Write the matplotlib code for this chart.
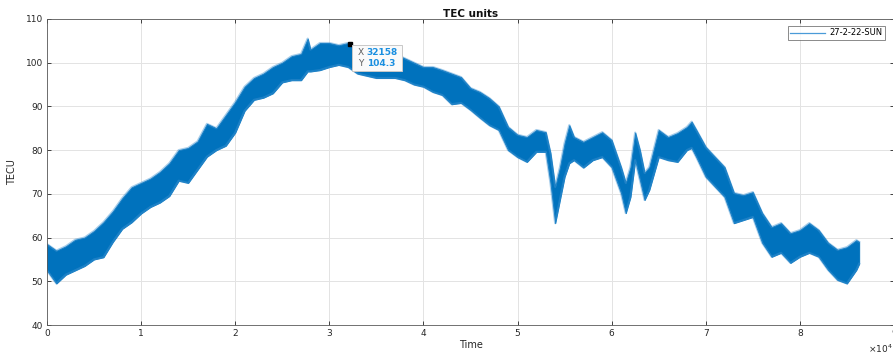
import numpy as np
import matplotlib
matplotlib.use('Agg')
import matplotlib.pyplot as plt
from matplotlib.patches import Rectangle
from matplotlib.lines import Line2D

# time of day in seconds, with the upper and lower edge of the noisy TEC trace
t_sec = [0, 1000, 2000, 3000, 4000, 5000, 6000, 7000, 8000, 9000,
         10000, 11000, 12000, 13000, 14000, 15000, 16000, 17000, 18000, 19000,
         20000, 21000, 22000, 23000, 24000, 25000, 26000, 27000, 27700, 28000,
         29000, 30000, 31000, 32000, 33000, 34000, 35000, 36000, 37000, 38000,
         39000, 40000, 41000, 42000, 43000, 44000, 45000, 46000, 47000, 48000,
         49000, 50000, 51000, 52000, 53000, 53500, 54000, 54500, 55000, 55500,
         56000, 57000, 58000, 59000, 60000, 61000, 61500, 62000, 62500, 63000,
         63500, 64000, 65000, 66000, 67000, 68000, 68500, 69000, 70000, 71000,
         72000, 73000, 74000, 75000, 76000, 77000, 78000, 79000, 80000, 81000,
         82000, 83000, 84000, 85000, 86000, 86300]

tec_hi = [58.5, 57.0, 58.0, 59.5, 60.0, 61.5, 63.5, 66.0, 69.0, 71.5,
          72.5, 73.5, 75.0, 77.0, 80.0, 80.5, 82.0, 86.0, 85.0, 88.0,
          91.0, 94.5, 96.5, 97.5, 99.0, 100.0, 101.5, 102.0, 105.5, 103.0,
          104.5, 104.5, 104.0, 104.5, 103.0, 103.0, 102.5, 102.0, 102.0, 101.0,
          100.0, 99.0, 99.0, 98.3, 97.5, 96.7, 94.2, 93.3, 91.9, 90.0,
          85.3, 83.5, 83.0, 84.6, 84.1, 79.3, 71.6, 76.0, 81.6, 85.7,
          83.0, 81.9, 83.0, 84.1, 82.3, 76.1, 72.5, 76.1, 84.0, 80.0,
          74.8, 76.1, 84.6, 83.0, 83.9, 85.3, 86.5, 84.6, 80.7, 78.4,
          76.1, 70.2, 69.7, 70.4, 65.6, 62.4, 63.3, 61.0, 61.7, 63.3,
          61.7, 58.8, 57.2, 57.8, 59.4, 59.0]

tec_lo = [52.5, 49.5, 51.5, 52.5, 53.5, 55.0, 55.5, 59.0, 62.0, 63.5,
          65.5, 67.0, 68.0, 69.5, 73.0, 72.5, 75.5, 78.5, 80.0, 81.0,
          84.0, 89.0, 91.5, 92.0, 93.0, 95.5, 96.0, 96.0, 98.0, 98.0,
          98.3, 99.0, 99.5, 99.0, 97.5, 97.0, 96.5, 96.5, 96.5, 96.0,
          95.0, 94.5, 93.3, 92.6, 90.5, 90.8, 89.2, 87.4, 85.7, 84.6,
          80.0, 78.4, 77.3, 79.6, 79.6, 72.5, 63.3, 68.6, 73.9, 77.0,
          77.7, 76.0, 77.7, 78.4, 76.1, 70.2, 65.6, 69.3, 77.7, 73.2,
          68.6, 70.9, 78.4, 77.7, 77.3, 80.0, 80.5, 78.4, 73.9, 71.6,
          69.3, 63.3, 64.0, 64.7, 58.8, 55.6, 56.5, 54.2, 55.6, 56.5,
          55.6, 52.6, 50.3, 49.5, 52.6, 54.0]

tip_x = 32158
tip_y = 104.3

x_ticks = [0, 10000, 20000, 30000, 40000, 50000, 60000, 70000, 80000, 90000]
x_labels = ['0', '1', '2', '3', '4', '5', '6', '7', '8', '9']
y_ticks = [40, 50, 60, 70, 80, 90, 100, 110]

line_col = '#0072BD'
txt_col = '#262626'

fig = plt.figure(figsize=(8.93, 3.55), dpi=100)
ax = fig.add_axes([0.0526, 0.0845, 0.9485, 0.862])

ax.fill_between(t_sec, tec_lo, tec_hi, color=line_col, lw=0.7)
# soft edges, the trace is fuzzy in the original
ax.plot(t_sec, tec_hi, color='#3f93d2', lw=1.6, alpha=0.45)
ax.plot(t_sec, tec_lo, color='#3f93d2', lw=1.6, alpha=0.45)

ax.set_xlim(0, 90000)
ax.set_ylim(40, 110)
ax.set_xticks(x_ticks)
ax.set_xticklabels(x_labels)
ax.set_yticks(y_ticks)

ax.grid(True, color='#e3e3e3', lw=0.7)
ax.set_axisbelow(True)
ax.tick_params(direction='in', length=3, width=0.6, colors=txt_col, labelsize=6.5,
               top=True, right=True, pad=3)
for s in ax.spines.values():
    s.set_color('#5a5a5a')
    s.set_linewidth(0.6)

ax.set_title('TEC units', fontsize=7.5, fontweight='bold', color='#111111', pad=1.5)
ax.set_xlabel('Time', fontsize=7, color=txt_col, labelpad=1)
ax.set_ylabel('TECU', fontsize=7, color=txt_col, labelpad=6)
ax.text(0.999, -0.078, r'$\times10^4$', transform=ax.transAxes, fontsize=6.5,
        color=txt_col, ha='right', va='center')

# legend with a plain line handle
h = Line2D([0], [0], color='#4a9bd8', lw=0.9)
leg = ax.legend([h], ['27-2-22-SUN'], loc='upper right', bbox_to_anchor=(0.989, 0.976),
                fontsize=6, frameon=True, fancybox=False, borderpad=0.25,
                handlelength=4.2, handletextpad=0.5, borderaxespad=0)
leg.get_frame().set_edgecolor('#555555')
leg.get_frame().set_linewidth(0.6)

# datatip
ax.plot([tip_x], [tip_y], 's', color='black', ms=2.2, zorder=5)
px, py = ax.transData.transform((tip_x, tip_y))
box = Rectangle((px + 2, py - 27), 50, 26, transform=None, facecolor='#fafafa',
                edgecolor='#c8c8c8', lw=0.7, zorder=6)
fig.patches.append(box)
fig.text((px + 8) / 893, (py - 9) / 355, 'X', fontsize=6.5, color='#5f5f5f', va='center', zorder=7)
fig.text((px + 17) / 893, (py - 9) / 355, str(tip_x), fontsize=6.5, color='#1a8fe0',
         fontweight='bold', va='center', zorder=7)
fig.text((px + 8) / 893, (py - 20) / 355, 'Y', fontsize=6.5, color='#5f5f5f', va='center', zorder=7)
fig.text((px + 17) / 893, (py - 20) / 355, '%.1f' % tip_y, fontsize=6.5, color='#1a8fe0',
         fontweight='bold', va='center', zorder=7)

fig.savefig('out.png', dpi=100)
